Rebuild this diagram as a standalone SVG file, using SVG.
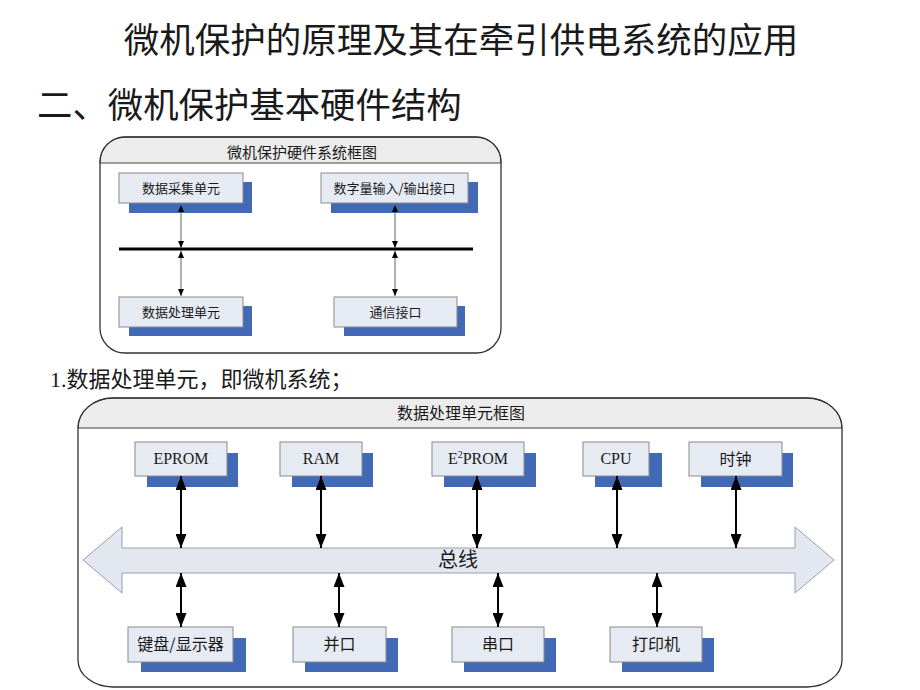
<svg xmlns="http://www.w3.org/2000/svg" width="920" height="690" viewBox="0 0 920 690">
<style>
.cjk{font-family:"Noto Sans CJK SC","Noto Sans",sans-serif;fill:#1a1a1a}
.ser{font-family:"Liberation Serif","Noto Sans CJK SC",serif;fill:#1a1a1a}
.frame{fill:none;stroke:#333;stroke-width:1.3}
.hdr{fill:#ececec;stroke:#444;stroke-width:1}
.box{fill:#e6eaf2;stroke:#8a8a8a;stroke-width:1}
.shd{fill:#4169b5}
.thin{stroke:#666;stroke-width:1;fill:none}
.thick{stroke:#000;stroke-width:2;fill:none}
.t13{font-size:13px;text-anchor:middle}
.t16{font-size:16px;text-anchor:middle}
</style>
<defs>
<marker id="sm" viewBox="0 0 7 6" refX="7" refY="3" markerWidth="7" markerHeight="6" markerUnits="userSpaceOnUse" orient="auto-start-reverse"><path d="M0,0 L7,3 L0,6 Z" fill="#000"/></marker>
<marker id="lg" viewBox="0 0 14 11" refX="14" refY="5.5" markerWidth="14" markerHeight="11" markerUnits="userSpaceOnUse" orient="auto-start-reverse"><path d="M0,0 L14,5.5 L0,11 Z" fill="#000"/></marker>
</defs>
<rect width="920" height="690" fill="#fff"/>
<text class="cjk" x="461" y="53" font-size="35.5" text-anchor="middle">微机保护的原理及其在牵引供电系统的应用</text>
<text class="cjk" x="37" y="118" font-size="35.4">二、微机保护基本硬件结构</text>
<text x="50" y="387" font-size="22"><tspan class="ser">1.</tspan><tspan class="cjk">数据处理单元，即微机系统；</tspan></text>

<g id="frame-top">
<rect x="100" y="137" width="401" height="216" rx="25" ry="25" fill="#fff"/>
<path class="hdr" d="M100,163 L100,162 A25,25 0 0 1 125,137 L476,137 A25,25 0 0 1 501,162 L501,163 Z"/>
<rect class="frame" x="100" y="137" width="401" height="216" rx="25" ry="25"/>
<text class="cjk" x="302" y="158" font-size="15" text-anchor="middle">微机保护硬件系统框图</text>
</g>

<g id="frame-bottom">
<path fill="#fff" d="M78,428 A35,30 0 0 1 113,398 L807,398 A35,30 0 0 1 842,428 L842,660 A35,27 0 0 1 807,687 L113,687 A35,27 0 0 1 78,660 Z"/>
<path class="hdr" d="M78,428 A35,30 0 0 1 113,398 L807,398 A35,30 0 0 1 842,428 Z"/>
<path class="frame" d="M78,428 A35,30 0 0 1 113,398 L807,398 A35,30 0 0 1 842,428 L842,660 A35,27 0 0 1 807,687 L113,687 A35,27 0 0 1 78,660 Z"/>
<text class="cjk" x="461" y="419" font-size="16" text-anchor="middle">数据处理单元框图</text>
</g>

<g id="bus-top"><line x1="119" y1="249" x2="473" y2="249" stroke="#000" stroke-width="3"/></g>

<g id="bus-main">
<path d="M83,560 L122,527 L122,548 L795,548 L795,527 L834,560 L795,593 L795,573 L122,573 L122,593 Z" fill="#e3e8f0" stroke="#9aa0a8" stroke-width="1"/>
<text class="cjk" x="458" y="567" font-size="20" text-anchor="middle">总线</text>
</g>

<g id="n-acq"><rect class="shd" x="129" y="182" width="123" height="31"/><rect class="box" x="119" y="173" width="124" height="30"/><text class="cjk t13" x="181" y="193">数据采集单元</text></g>
<g id="n-dio"><rect class="shd" x="331" y="182" width="147" height="31"/><rect class="box" x="321" y="173" width="147" height="30"/><text class="cjk t13" x="394.5" y="193">数字量输入/输出接口</text></g>
<g id="n-proc"><rect class="shd" x="129" y="306" width="123" height="30"/><rect class="box" x="119" y="297" width="124" height="30"/><text class="cjk t13" x="181" y="317">数据处理单元</text></g>
<g id="n-comm"><rect class="shd" x="344" y="306" width="121" height="30"/><rect class="box" x="334" y="297" width="123" height="30"/><text class="cjk t13" x="395.5" y="317">通信接口</text></g>

<g id="n-eprom"><rect class="shd" x="147" y="453" width="91" height="34"/><rect class="box" x="135" y="442" width="92" height="34"/><text class="ser t16" x="181" y="464">EPROM</text></g>
<g id="n-ram"><rect class="shd" x="292" y="453" width="81" height="34"/><rect class="box" x="280" y="442" width="82" height="34"/><text class="ser t16" x="321" y="464">RAM</text></g>
<g id="n-e2prom"><rect class="shd" x="444" y="453" width="92" height="34"/><rect class="box" x="432" y="442" width="92" height="34"/><text class="ser t16" x="478" y="464">E<tspan font-size="10" dy="-6">2</tspan><tspan dy="6">PROM</tspan></text></g>
<g id="n-cpu"><rect class="shd" x="595" y="453" width="67" height="34"/><rect class="box" x="583" y="442" width="66" height="34"/><text class="ser t16" x="616" y="464">CPU</text></g>
<g id="n-clock"><rect class="shd" x="701" y="453" width="92" height="34"/><rect class="box" x="689" y="442" width="93" height="34"/><text class="cjk t16" x="735.5" y="465">时钟</text></g>

<g id="n-kbd"><rect class="shd" x="141" y="638" width="105" height="34"/><rect class="box" x="128" y="627" width="105" height="35"/><text class="cjk t16" x="180.5" y="650">键盘/显示器</text></g>
<g id="n-par"><rect class="shd" x="305" y="638" width="93" height="34"/><rect class="box" x="293" y="627" width="93" height="35"/><text class="cjk t16" x="339.5" y="650">并口</text></g>
<g id="n-ser"><rect class="shd" x="464" y="638" width="92" height="34"/><rect class="box" x="452" y="627" width="92" height="35"/><text class="cjk t16" x="498" y="650">串口</text></g>
<g id="n-prn"><rect class="shd" x="622" y="638" width="92" height="34"/><rect class="box" x="610" y="627" width="92" height="35"/><text class="cjk t16" x="656" y="650">打印机</text></g>

<g id="connectors">
<line class="thin" x1="181" y1="205" x2="181" y2="248" marker-start="url(#sm)" marker-end="url(#sm)"/>
<line class="thin" x1="181" y1="251" x2="181" y2="296" marker-start="url(#sm)" marker-end="url(#sm)"/>
<line class="thin" x1="395" y1="205" x2="395" y2="248" marker-start="url(#sm)" marker-end="url(#sm)"/>
<line class="thin" x1="395" y1="251" x2="395" y2="296" marker-start="url(#sm)" marker-end="url(#sm)"/>
<line class="thick" x1="181" y1="476" x2="181" y2="548" marker-start="url(#lg)" marker-end="url(#lg)"/>
<line class="thick" x1="321" y1="476" x2="321" y2="548" marker-start="url(#lg)" marker-end="url(#lg)"/>
<line class="thick" x1="477" y1="476" x2="477" y2="548" marker-start="url(#lg)" marker-end="url(#lg)"/>
<line class="thick" x1="617" y1="476" x2="617" y2="548" marker-start="url(#lg)" marker-end="url(#lg)"/>
<line class="thick" x1="736" y1="476" x2="736" y2="548" marker-start="url(#lg)" marker-end="url(#lg)"/>
<line class="thick" x1="181" y1="573" x2="181" y2="627" marker-start="url(#lg)" marker-end="url(#lg)"/>
<line class="thick" x1="339" y1="573" x2="339" y2="627" marker-start="url(#lg)" marker-end="url(#lg)"/>
<line class="thick" x1="498" y1="573" x2="498" y2="627" marker-start="url(#lg)" marker-end="url(#lg)"/>
<line class="thick" x1="657" y1="573" x2="657" y2="627" marker-start="url(#lg)" marker-end="url(#lg)"/>
</g>
</svg>
